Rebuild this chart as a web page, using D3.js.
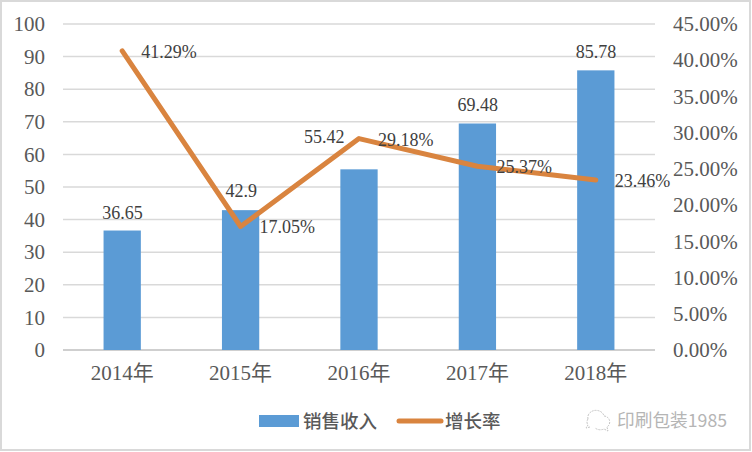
<!DOCTYPE html>
<html><head><meta charset="utf-8">
<script src="https://cdnjs.cloudflare.com/ajax/libs/d3/7.8.5/d3.min.js"></script>
<style>html,body{margin:0;padding:0;background:#fff}svg{display:block}</style>
</head><body><svg id="c" width="752" height="452"></svg>
<script>
const categories=["2014年","2015年","2016年","2017年","2018年"];
const revenue=[36.65,42.9,55.42,69.48,85.78];
const growth=[41.29,17.05,29.18,25.37,23.46];
const revenueLabels=["36.65","42.9","55.42","69.48","85.78"];
const growthLabels=["41.29%","17.05%","29.18%","25.37%","23.46%"];
const leftTicks=[0,10,20,30,40,50,60,70,80,90,100];
const rightTicks=[0,5,10,15,20,25,30,35,40,45];
const legendNames=["销售收入","增长率"];
const serif='"Liberation Serif","Times New Roman",serif';
const cjk='"Noto Sans CJK SC",sans-serif';
const svg=d3.select("#c");
svg.append("rect").attr("x",1).attr("y",1).attr("width",749).attr("height",449).attr("fill","#fff").attr("stroke","#d9d9d9").attr("stroke-width",2);
const x=d3.scaleBand().domain(categories).range([63,655]).paddingInner(.685).paddingOuter(.3425);
const yL=d3.scaleLinear().domain([0,100]).range([350,24]);
const yR=d3.scaleLinear().domain([0,45]).range([350,24]);
const cx=c=>x(c)+x.bandwidth()/2;
svg.append("g").selectAll("line").data(leftTicks).join("line")
 .attr("x1",63).attr("x2",655).attr("y1",d=>yL(d)).attr("y2",d=>yL(d))
 .attr("stroke",d=>d===0?"#bfbfbf":"#d9d9d9").attr("stroke-width",1.5);
svg.append("g").selectAll("rect").data(revenue).join("rect")
 .attr("x",(d,i)=>x(categories[i])).attr("width",x.bandwidth())
 .attr("y",d=>yL(d)).attr("height",d=>yL(0)-yL(d)).attr("fill","#5b9bd5");
const line=d3.line().x((d,i)=>cx(categories[i])).y(d=>yR(d));
svg.append("path").attr("d",line(growth)).attr("fill","none").attr("stroke","#d9843f")
 .attr("stroke-width",5).attr("stroke-linecap","round").attr("stroke-linejoin","round");
const fmt=d=>d.toFixed(2)+"%";
const axL=svg.append("g").attr("transform","translate(45,0)").call(d3.axisLeft(yL).tickValues(leftTicks).tickSize(0).tickPadding(0));
const axR=svg.append("g").attr("transform","translate(673,0)").call(d3.axisRight(yR).tickValues(rightTicks).tickFormat(fmt).tickSize(0).tickPadding(0));
const axB=svg.append("g").attr("transform","translate(0,350)").call(d3.axisBottom(x).tickSize(0).tickPadding(15));
[axL,axR,axB].forEach(a=>{a.select(".domain").remove();
 a.selectAll("text").attr("font-family",serif+","+cjk).attr("font-size",21).attr("fill","#595959");});
const lab=svg.append("g").attr("font-family",serif).attr("font-size",18).attr("fill","#404040");
const rOff=[[-20,-12],[-15,-13],[-55,-26],[-20,-12],[-20,-12]];
lab.selectAll(".r").data(revenue).join("text").attr("class","r")
 .attr("x",(d,i)=>cx(categories[i])+rOff[i][0]).attr("y",(d,i)=>yL(d)+rOff[i][1]).text((d,i)=>revenueLabels[i]);
lab.selectAll(".g").data(growth).join("text").attr("class","g")
 .attr("x",(d,i)=>cx(categories[i])+19).attr("y",(d,i)=>yR(d)+7).text((d,i)=>growthLabels[i]);
const lg=svg.append("g").attr("font-family",cjk).attr("font-size",18.5).attr("font-weight",500).attr("fill","#595959");
lg.append("rect").attr("x",259).attr("y",415).attr("width",40).attr("height",12).attr("fill","#5b9bd5");
lg.append("text").attr("x",303).attr("y",428).text(legendNames[0]);
lg.append("line").attr("x1",399).attr("x2",441).attr("y1",421).attr("y2",421).attr("stroke","#d9843f").attr("stroke-width",5).attr("stroke-linecap","round");
lg.append("text").attr("x",445).attr("y",428).text(legendNames[1]);
const wm=svg.append("g").attr("fill","none").attr("stroke","#c4c4c4").attr("stroke-width",1).attr("stroke-dasharray","2 1");
wm.append("path").attr("d","M588 419a8 7 0 0 1 16-3a6 6 0 0 1 3 11l1 4-4-2a9 9 0 0 1-9-1M588 419a5 5 0 0 0 0 6l-2 3 4-1");
svg.append("text").attr("x",617).attr("y",427).attr("font-family",cjk).attr("font-size",17.7).attr("fill","#b5b5b5").text("印刷包装1985");
</script></body></html>
